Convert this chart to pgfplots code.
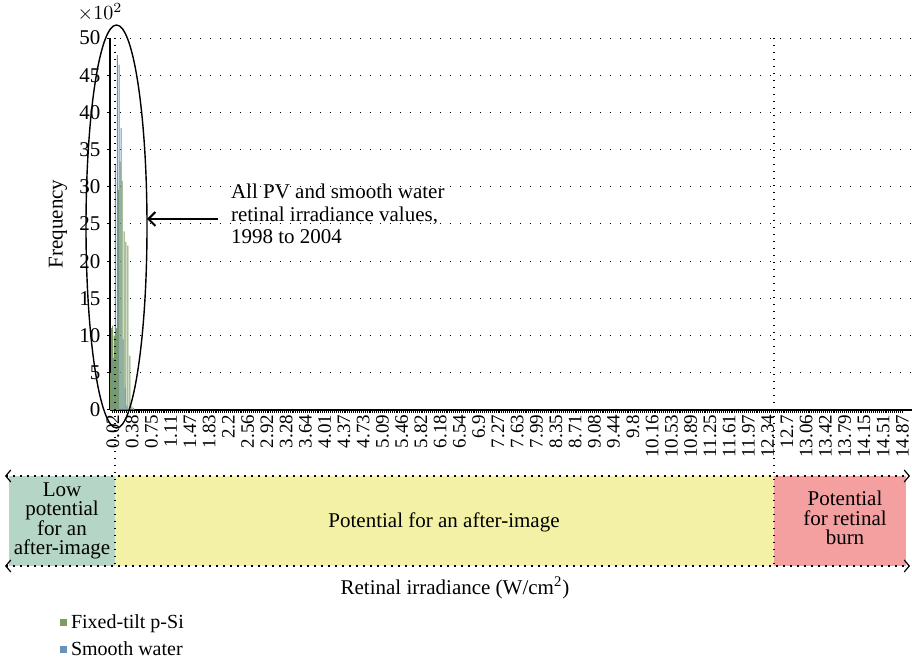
\documentclass[border=0pt]{standalone}
\usepackage{fontspec}
\setmainfont{Liberation Serif}
\usepackage{pgfplots}
\usepackage{pgfplotstable}
\pgfplotsset{compat=1.18}
\usetikzlibrary{arrows.meta}

\definecolor{pvgreen}{RGB}{124,156,96}
\definecolor{waterblue}{RGB}{104,146,184}
\definecolor{bandgreen}{RGB}{181,214,198}
\definecolor{bandyellow}{RGB}{243,241,165}
\definecolor{bandred}{RGB}{244,160,160}

% bins of ~0.036 W/cm2, index 0 = 0.02
\pgfplotstableread{
idx green blue
-1  500  1100
0   1130 700
1   1000 3300
2   1100 4770
3   2960 4640
4   3340 3790
5   3080 950
6   2400 300
7   2260 60
8   2210 20
9   730  0
10  50   0
11  30   0
}\bins

\tikzset{dotline/.style={black, line width=0.6pt, dash pattern=on 0.6pt off 2.9pt}}

\begin{document}
\begin{tikzpicture}
\useasboundingbox (-55pt,-126.5pt) rectangle (401pt,205pt);
\begin{axis}[
    at={(0,0)}, anchor=south west,
    width=401pt, height=186pt, scale only axis,
    xmin=-1.55, xmax=415, ymin=0, ymax=5000,
    axis x line=bottom, axis y line=left,
    axis line style={-, line width=1.2pt, black},
    xtick={0,10,...,410},
    xticklabels={0.02,0.38,0.75,1.11,1.47,1.83,2.2,2.56,2.92,3.28,3.64,4.01,4.37,4.73,5.09,5.46,5.82,6.18,6.54,6.9,7.27,7.63,7.99,8.35,8.71,9.08,9.44,9.8,10.16,10.53,10.89,11.25,11.61,11.97,12.34,12.7,13.06,13.42,13.79,14.15,14.51,14.87},
    minor x tick num=9,
    tick align=outside,
    major tick length=1.3pt, minor tick length=1.3pt,
    tick style={black, line width=0.5pt},
    x tick label style={rotate=90, anchor=east, font=\fontsize{9.5}{10}\selectfont, inner sep=1pt},
    ytick={0,500,...,5000},
    yticklabels={0,5,10,15,20,25,30,35,40,45,50},
    y tick label style={font=\fontsize{10.5}{11}\selectfont},
    ymajorgrids,
    major grid style={black, line width=0.5pt, dash pattern=on 0.6pt off 4.4pt},
    ylabel={Frequency},
    every axis y label/.style={at={(rel axis cs:0,0.5)}, xshift=-26pt, rotate=90, anchor=center, font=\fontsize{10.5}{11}\selectfont},
    legend style={at={(rel axis cs:-0.07,-0.527)}, anchor=north west, draw=none, fill=none,
        font=\fontsize{10}{11}\selectfont, row sep=1pt, nodes={inner sep=2pt}},
    legend cell align=left,
    legend image code/.code={\fill[#1] (0pt,-1.7pt) rectangle (3.4pt,1.7pt);},
]
\addplot[ybar, bar width=0.52, bar shift=-0.25, fill=pvgreen, draw=none] table[x=idx, y=green] {\bins};
\addlegendentry{Fixed-tilt p-Si}
\addplot[ybar, bar width=0.52, bar shift=0.25, fill=waterblue, draw=none] table[x=idx, y=blue] {\bins};
\addlegendentry{Smooth water}
\end{axis}

% annotations in reference pixel units
\begin{scope}[shift={(-55pt,205pt)}, x=0.5pt, y=-0.5pt]
  \node[font=\fontsize{10}{11}\selectfont, inner sep=1pt] at (100,12) {$\times 10^{2}$};
  \fill[bandgreen] (9,476) rectangle (115,566);
  \fill[bandyellow] (115,476) rectangle (774,566);
  \fill[bandred] (774,476) rectangle (906,566);
  \draw[dotline, {Straight Barb[length=2.5pt,width=6pt]}-{Straight Barb[length=2.5pt,width=6pt]}] (5,476) -- (910,476);
  \draw[dotline, {Straight Barb[length=2.5pt,width=6pt]}-{Straight Barb[length=2.5pt,width=6pt]}] (5,566) -- (910,566);
  \draw[dotline] (115,38) -- (115,566);
  \draw[dotline] (774,38) -- (774,566);
  \node[align=center, font=\fontsize{10.5}{9.7}\selectfont] at (62,521) {Low\\potential\\for an\\after-image};
  \node[font=\fontsize{10.5}{11}\selectfont] at (444,522) {Potential for an after-image};
  \node[align=center, font=\fontsize{10.5}{9.7}\selectfont] at (845,518) {Potential\\for retinal\\burn};
  \node[font=\fontsize{10.5}{11}\selectfont] at (455,588) {Retinal irradiance (W/cm\textsuperscript{2})};
  \draw[line width=0.7pt] (116.5,226.5) ellipse [x radius=15.25pt, y radius=100.75pt];
  \draw[line width=1pt, -{Straight Barb[length=3.5pt,width=7pt]}] (218,219) -- (147,219);
  \node[anchor=west, align=left, font=\fontsize{10.5}{11.3}\selectfont] at (224,214) {All PV and smooth water\\retinal irradiance values,\\1998 to 2004};
\end{scope}
\end{tikzpicture}
\end{document}
